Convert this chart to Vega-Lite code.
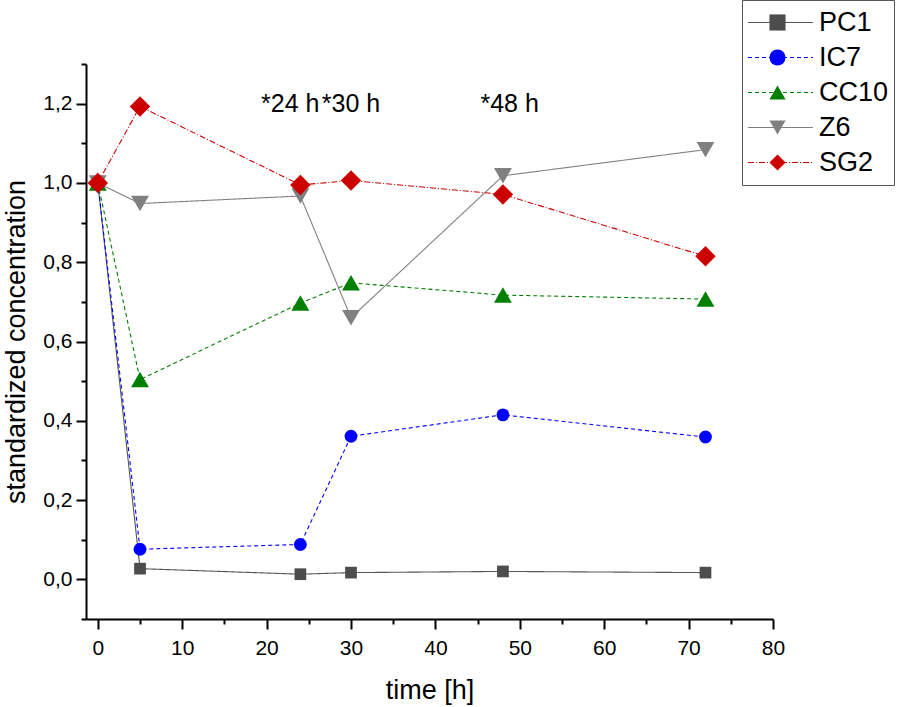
{
  "$schema": "https://vega.github.io/schema/vega-lite/v6.json",
  "width": 687,
  "height": 555,
  "autosize": {"type": "none"},
  "padding": {"left": 86, "top": 64, "right": 125, "bottom": 88},
  "background": "white",
  "config": {
    "font": "Liberation Sans",
    "view": {"stroke": null},
    "axis": {
      "grid": false,
      "domainColor": "black",
      "domainWidth": 2,
      "tickColor": "black",
      "tickWidth": 2,
      "labelColor": "black",
      "labelFontSize": 21,
      "labelFont": "Liberation Sans",
      "titleFont": "Liberation Sans",
      "titleColor": "black",
      "titleFontWeight": "normal",
      "titleFontSize": 27,
      "labelOverlap": false
    }
  },
  "encoding": {
    "x": {
      "field": "t",
      "type": "quantitative",
      "title": "time [h]",
      "scale": {"domain": [-1.4, 80], "nice": false, "zero": false},
      "axis": {
        "values": [0, 5, 10, 15, 20, 25, 30, 35, 40, 45, 50, 55, 60, 65, 70, 75, 80],
        "labelExpr": "datum.value % 10 === 0 ? datum.label : ''",
        "tickSize": {"condition": {"test": "datum.value % 10 === 0", "value": 10}, "value": 5},
        "labelPadding": 8,
        "labelFlush": false,
        "titleY": 79,
        "titleBaseline": "alphabetic"
      }
    },
    "y": {
      "field": "v",
      "type": "quantitative",
      "title": "standardized concentration",
      "scale": {"domain": [-0.1, 1.3], "nice": false, "zero": false},
      "axis": {
        "values": [-0.1, 0, 0.1, 0.2, 0.3, 0.4, 0.5, 0.6, 0.7, 0.8, 0.9, 1.0, 1.1, 1.2, 1.3],
        "labelExpr": "abs(round(datum.value*10)) % 2 === 0 ? replace(format(datum.value, '.1f'), '.', ',') : ''",
        "tickSize": {"condition": {"test": "abs(round(datum.value*10)) % 2 === 0", "value": 10}, "value": 5},
        "labelPadding": 4,
        "titleX": -62,
        "titleBaseline": "alphabetic"
      }
    }
  },
  "datasets": {
    "series": [
      {"series": "PC1", "t": 0, "v": 1.0},
      {"series": "PC1", "t": 5, "v": 0.027},
      {"series": "PC1", "t": 24, "v": 0.013},
      {"series": "PC1", "t": 30, "v": 0.017},
      {"series": "PC1", "t": 48, "v": 0.020},
      {"series": "PC1", "t": 72, "v": 0.017},
      {"series": "IC7", "t": 0, "v": 1.0},
      {"series": "IC7", "t": 5, "v": 0.076},
      {"series": "IC7", "t": 24, "v": 0.088},
      {"series": "IC7", "t": 30, "v": 0.361},
      {"series": "IC7", "t": 48, "v": 0.415},
      {"series": "IC7", "t": 72, "v": 0.359},
      {"series": "CC10", "t": 0, "v": 1.0},
      {"series": "CC10", "t": 5, "v": 0.504},
      {"series": "CC10", "t": 24, "v": 0.697},
      {"series": "CC10", "t": 30, "v": 0.748},
      {"series": "CC10", "t": 48, "v": 0.717},
      {"series": "CC10", "t": 72, "v": 0.707},
      {"series": "Z6", "t": 0, "v": 1.0},
      {"series": "Z6", "t": 5, "v": 0.948},
      {"series": "Z6", "t": 24, "v": 0.967},
      {"series": "Z6", "t": 30, "v": 0.660},
      {"series": "Z6", "t": 48, "v": 1.018},
      {"series": "Z6", "t": 72, "v": 1.084},
      {"series": "SG2", "t": 0, "v": 1.0},
      {"series": "SG2", "t": 5, "v": 1.193},
      {"series": "SG2", "t": 24, "v": 0.995},
      {"series": "SG2", "t": 30, "v": 1.006},
      {"series": "SG2", "t": 48, "v": 0.971},
      {"series": "SG2", "t": 72, "v": 0.815}
    ],
    "notes": [
      {"t": 22.8, "v": 1.2, "label": "*24 h"},
      {"t": 30.0, "v": 1.2, "label": "*30 h"},
      {"t": 48.8, "v": 1.2, "label": "*48 h"}
    ]
  },
  "layer": [
    {
      "data": {"name": "series"},
      "mark": {"type": "line", "strokeWidth": 1.1},
      "encoding": {
        "stroke": {
          "field": "series",
          "type": "nominal",
          "scale": {
            "domain": ["PC1", "IC7", "CC10", "Z6", "SG2"],
            "range": ["#555555", "#0000ff", "#008000", "#808080", "#cc0000"]
          },
          "legend": {
            "title": null,
            "orient": "none",
            "legendX": 656,
            "legendY": -64,
            "padding": 5,
            "clipHeight": 35,
            "rowPadding": 0,
            "symbolSize": 4225,
            "symbolStrokeWidth": 1.2,
            "labelFontSize": 27,
            "labelFont": "Liberation Sans",
            "labelColor": "black",
            "labelOffset": 5,
            "strokeColor": "#555555"
          }
        },
        "strokeDash": {
          "field": "series",
          "type": "nominal",
          "scale": {
            "domain": ["PC1", "IC7", "CC10", "Z6", "SG2"],
            "range": [[1, 0], [4, 3], [4, 3], [1, 0], [6, 2, 1, 2]]
          },
          "legend": {
            "title": null,
            "orient": "none",
            "legendX": 656,
            "legendY": -64,
            "padding": 5,
            "clipHeight": 35,
            "rowPadding": 0,
            "symbolSize": 4225,
            "symbolStrokeWidth": 1.2,
            "labelFontSize": 27,
            "labelFont": "Liberation Sans",
            "labelColor": "black",
            "labelOffset": 5,
            "strokeColor": "#555555"
          }
        }
      }
    },
    {
      "data": {"name": "series"},
      "mark": {
        "type": "point",
        "filled": true,
        "opacity": 1,
        "size": {"expr": "datum.series === 'PC1' ? 137 : datum.series === 'IC7' ? 165 : datum.series === 'SG2' ? 420 : 320"}
      },
      "encoding": {
        "fill": {
          "field": "series",
          "type": "nominal",
          "scale": {
            "domain": ["PC1", "IC7", "CC10", "Z6", "SG2", "-"],
            "range": ["#4d4d4d", "#0000ff", "#008000", "#808080", "#cc0000", "#000000"]
          },
          "legend": {
            "title": null,
            "values": ["PC1", "IC7", "CC10", "Z6", "SG2"],
            "orient": "none",
            "legendX": 656,
            "legendY": -64,
            "padding": 5,
            "clipHeight": 35,
            "rowPadding": 0,
            "symbolSize": 260,
            "symbolStrokeWidth": 0,
            "symbolOffset": 17,
            "labelFontSize": 27,
            "labelFont": "Liberation Sans",
            "labelExpr": "''",
            "labelOffset": 5
          }
        },
        "shape": {
          "field": "series",
          "type": "nominal",
          "scale": {
            "domain": ["PC1", "IC7", "CC10", "Z6", "SG2", "-"],
            "range": ["square", "circle", "triangle-up", "triangle-down", "diamond", "cross"]
          },
          "legend": {
            "title": null,
            "values": ["PC1", "IC7", "CC10", "Z6", "SG2"],
            "orient": "none",
            "legendX": 656,
            "legendY": -64,
            "padding": 5,
            "clipHeight": 35,
            "rowPadding": 0,
            "symbolSize": 260,
            "symbolStrokeWidth": 0,
            "symbolOffset": 17,
            "labelFontSize": 27,
            "labelFont": "Liberation Sans",
            "labelExpr": "''",
            "labelOffset": 5
          }
        }
      }
    },
    {
      "data": {"name": "notes"},
      "mark": {"type": "text", "fontSize": 25, "font": "Liberation Sans", "align": "center", "baseline": "middle", "color": "black"},
      "encoding": {
        "text": {"field": "label", "type": "nominal"}
      }
    }
  ]
}
